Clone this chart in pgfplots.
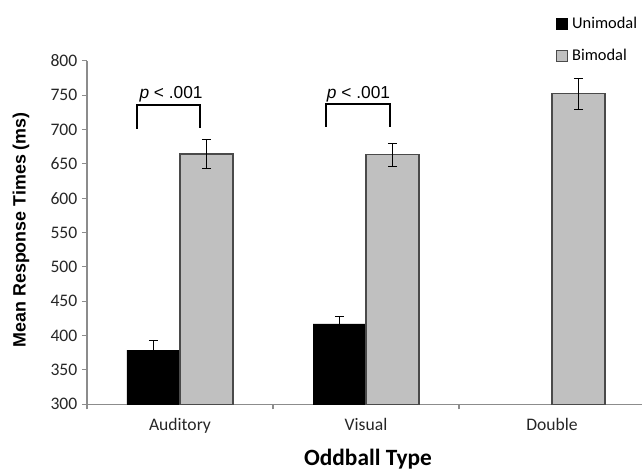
\documentclass[border=0pt]{standalone}
\usepackage{pgfplots}
\pgfplotsset{compat=1.18}
\usepackage{fontspec}
\setmainfont{Carlito}
\newfontfamily\arialfont{Liberation Sans}
\definecolor{bimodal}{HTML}{C0C0C0}
\definecolor{axisgray}{HTML}{8C8C8C}
\definecolor{baredge}{HTML}{4A4A4A}
\begin{document}
\begin{tikzpicture}
\begin{axis}[
  at={(65.25pt,49.3pt)}, anchor=south west,
  scale only axis, width=418.5pt, height=257.5pt,
  xmin=-0.5, xmax=2.5, ymin=300, ymax=800,
  ybar=0pt, bar width=39.75pt,
  axis x line*=bottom, axis y line*=left,
  axis line style={draw=axisgray, line width=0.8pt},
  xtick={0,1,2}, xticklabels={Auditory,Visual,Double},
  minor xtick={-0.5,0.5,1.5,2.5},
  major x tick style={draw=none},
  minor x tick style={draw=axisgray, line width=0.8pt},
  ytick={300,350,...,800},
  y tick style={draw=axisgray, line width=0.8pt},
  tick align=outside, major tick length=3.75pt, minor tick length=3.75pt,
  /pgf/number format/assume math mode=true,
  tick label style={font=\fontsize{13.2}{15}\selectfont, text=black!85},
  xticklabel style={anchor=base, yshift=-16pt},
  ylabel={Mean Response Times (ms)},
  ylabel style={at={(axis description cs:-0.1183,0.508)}, anchor=center, rotate=0, font=\arialfont\bfseries\fontsize{13.4}{15}\selectfont},
  xlabel={Oddball Type},
  xlabel style={at={(axis description cs:0.5036,-0.1783)}, anchor=base, font=\bfseries\fontsize{17.5}{19}\selectfont},
  legend style={at={(axis description cs:0.8405,1.1273)}, anchor=north west, draw=none, fill=none,
    inner sep=0pt, outer sep=0pt, row sep=13.8pt,
    nodes={inner sep=0pt, anchor=west},
    /tikz/every odd column/.append style={column sep=3pt},
    font=\fontsize{12.3}{14}\selectfont},
  legend image code/.code={\draw[#1] (0pt,-4.1pt) rectangle (8.25pt,4.1pt);},
  legend cell align=left,
  clip=true,
  error bars/error bar style={black, line width=0.6pt},
  error bars/error mark options={black, rotate=90, mark size=3.4pt, line width=0.6pt},
]
\addplot[fill=black, draw=black, line width=0.6pt,
  error bars/.cd, y dir=both, y explicit]
  coordinates {(0,379) +- (0,14) (1,417) +- (0,11)};
\addlegendentry{Unimodal}
\addplot[fill=bimodal, draw=baredge, line width=0.9pt,
  error bars/.cd, y dir=both, y explicit]
  coordinates {(0,664.5) +- (0,20.5) (1,663.4) +- (0,16.7) (2,752) +- (0,22)};
\addlegendentry{Bimodal}
\draw[black, line width=1pt] (axis cs:-0.2312,701) -- (axis cs:-0.2312,735.9) -- (axis cs:0.1075,735.9) -- (axis cs:0.1075,702.5);
\draw[black, line width=1pt] (axis cs:0.785,703.9) -- (axis cs:0.785,737.4) -- (axis cs:1.129,737.4) -- (axis cs:1.129,703.9);
\node[anchor=base, font=\arialfont\fontsize{13}{15}\selectfont, inner sep=0pt] at (axis cs:-0.048,745.5) {\textit{p} < .001};
\node[anchor=base, font=\arialfont\fontsize{13}{15}\selectfont, inner sep=0pt] at (axis cs:0.960,745.5) {\textit{p} < .001};
\end{axis}
\pgfresetboundingbox
\path[use as bounding box] (0,0) rectangle (481.5pt,352.5pt);
\end{tikzpicture}
\end{document}
